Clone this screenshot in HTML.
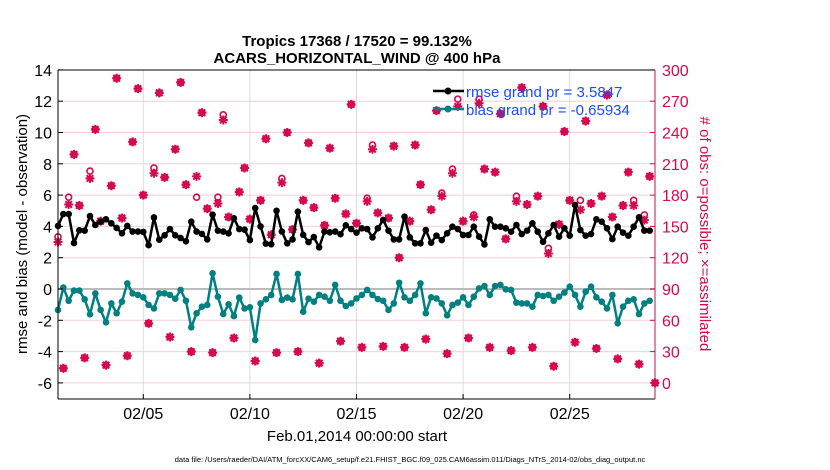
<!DOCTYPE html>
<html><head><meta charset="utf-8">
<style>
body{margin:0;background:#fff;}
svg{display:block;font-family:"Liberation Sans",Arial,sans-serif;}
</style></head>
<body>
<svg id="chart" width="830" height="470" viewBox="0 0 830 470" xmlns="http://www.w3.org/2000/svg">
<g id="grid"></g>
<g id="marks"></g>
<g id="axes"></g>
<text x="357" y="46" text-anchor="middle" font-size="15" font-weight="bold">Tropics 17368 / 17520 = 99.132%</text>
<text x="357" y="63" text-anchor="middle" font-size="15" font-weight="bold">ACARS_HORIZONTAL_WIND @ 400 hPa</text>
<text transform="translate(27,234) rotate(-90)" text-anchor="middle" font-size="15">rmse and bias (model - observation)</text>
<text transform="translate(700,234) rotate(90)" text-anchor="middle" font-size="15" fill="#d6084f"># of obs: o=possible; ×=assimilated</text>
<text x="357" y="441" text-anchor="middle" font-size="15">Feb.01,2014 00:00:00 start</text>
<text x="410" y="462" text-anchor="middle" font-size="7.5">data file: /Users/raeder/DAI/ATM_forcXX/CAM6_setup/f.e21.FHIST_BGC.f09_025.CAM6assim.011/Diags_NTrS_2014-02/obs_diag_output.nc</text>
<g>
<line x1="433" y1="91" x2="464" y2="91" stroke="#000" stroke-width="2.5"/>
<circle cx="448" cy="91" r="3.5" fill="#000"/>
<text x="466" y="97" font-size="15" fill="#1a4cff">rmse grand pr = 3.5847</text>
<line x1="433" y1="109" x2="464" y2="109" stroke="#008080" stroke-width="2.5"/>
<circle cx="448" cy="109" r="3.5" fill="#008080"/>
<text x="466" y="115" font-size="15" fill="#1a4cff">bias grand pr = -0.65934</text>
</g>
</svg>
<script>
const rmse=[4.03,4.79,4.79,2.94,3.75,3.73,4.66,4.09,4.3,4.45,4.2,3.9,3.56,4.03,3.67,3.67,3.65,2.8,4.57,3.15,3.43,3.83,3.43,3.26,3.05,4.3,3.67,3.52,3.17,4.75,3.73,3.67,3.56,4.52,3.83,3.79,3.13,5.17,4.0,2.9,2.86,5.0,3.67,2.92,3.17,4.94,3.46,3.0,3.32,2.66,3.67,3.62,3.67,3.5,4.07,3.83,3.6,
3.88,3.83,3.30,3.88,4.41,3.73,3.17,3.17,4.62,3.30,2.92,2.92,3.77,2.96,3.41,3.13,3.56,3.98,3.83,3.45,3.45,3.98,3.34,2.85,4.45,3.98,3.98,3.88,3.66,4.09,3.51,3.73,4.20,3.66,3.02,3.56,4.09,3.34,3.88,3.41,5.37,3.77,3.41,3.51,4.45,4.30,3.88,3.19,3.98,3.60,3.41,3.98,4.58,3.73,3.73];
const bias=[-1.34,0.09,-0.75,-0.1,-0.1,-0.66,-1.62,-0.28,-1.34,-2.13,-0.92,-1.55,-0.81,0.36,-0.28,-0.38,-0.53,-1.02,-1.24,-0.28,-0.28,-0.38,-0.62,-0.06,-0.75,-2.45,-1.55,-1.13,-1.02,1.0,-0.49,-1.6,-0.98,-1.73,-0.55,-1.24,-1.17,-3.26,-0.92,-0.66,-0.38,0.96,-0.7,-0.55,-0.66,0.96,-1.45,-0.62,-0.81,-0.38,-0.49,-0.75,0.26,-0.75,-1.09,-0.92,-0.6,
-0.38,-0.06,-0.38,-0.64,-0.75,-1.34,-0.92,0.40,-0.53,-0.75,-0.38,0.36,-1.55,-0.53,-0.60,-0.92,-1.68,-1.02,-0.87,-0.53,-1.02,-0.49,0.04,0.19,-0.38,0.19,0.26,-0.02,-0.06,-0.87,-0.92,-0.92,-1.13,-0.38,-0.45,-0.38,-0.75,-0.49,-0.23,0.15,-0.38,-1.13,-0.17,0.15,-0.53,-0.81,-1.24,-0.38,-2.19,-1.13,-0.75,-0.66,-1.60,-0.92,-0.75];
const assimilated=[135,14,171,219,170,24,196,243,155,17,189,292,158,26,231,282,180,57,201,278,197,44,224,288,190,30,198,259,167,29,172,252,159,43,183,206,157,21,175,234,142,29,192,240,147,30,175,230,168,19,151,225,177,40,162,267,153,
34,174,224,163,35,158,227,120,34,155,228,190,42,166,261,179,28,201,265,155,43,159,268,205,34,202,258,138,31,174,283,171,34,179,265,124,16,152,241,175,39,166,251,172,33,179,276,159,23,170,202,170,18,156,198,0];
const possible=[140,14,178,219,170,24,203,243,155,17,189,292,158,26,231,282,180,57,206,278,197,44,224,288,190,30,178,259,167,29,178,257,159,43,183,206,157,21,175,234,142,29,196,240,147,30,175,230,168,19,151,225,177,40,162,267,153,
34,177,228,163,35,158,227,120,34,155,228,190,42,166,261,182,28,205,272,155,43,161,272,205,34,202,258,138,31,179,283,171,34,179,265,129,16,152,241,175,39,175,251,172,33,179,276,159,23,170,202,175,18,161,198,0];
const leftTicks=[14,12,10,8,6,4,2,0,-2,-4,-6];
const rightTicks=[300,270,240,210,180,150,120,90,60,30,0];
const dateTicks=[4,9,14,19,24];
const dateLabels=["02/05","02/10","02/15","02/20","02/25"];

const L=58,R=655,T=70,B=399;
const NS="http://www.w3.org/2000/svg";
const xDay=d=>L+d*(R-L)/28;
const xIdx=i=>xDay(i*0.25);
const yL=v=>289-v*15.65;
const yR=o=>yL(o/15-6);
function mk(tag,attrs,parent){const e=document.createElementNS(NS,tag);for(const k in attrs)e.setAttribute(k,attrs[k]);parent.appendChild(e);return e;}
const grid=document.getElementById('grid'),marks=document.getElementById('marks'),axes=document.getElementById('axes');

leftTicks.forEach(v=>{
  const y=yL(v);
  if(v!==14){const g=mk('line',{x1:L,x2:R,y1:y,y2:y,stroke:'#f2cfdc','stroke-width':1},grid);
  
  }
  mk('line',{x1:L,x2:L+5,y1:y,y2:y,stroke:'#000'},axes);
  const t=mk('text',{x:52,y:y+6,'text-anchor':'end','font-size':16},axes);t.textContent=v;
  
  
});
rightTicks.forEach(o=>{
  const y=yR(o);
  mk('line',{x1:R-5,x2:R,y1:y,y2:y,stroke:'#d6084f'},axes);
  const t=mk('text',{x:662,y:y+6,'font-size':16,fill:'#d6084f'},axes);t.textContent=o;
  
  
});
dateTicks.forEach((d,k)=>{
  const x=xDay(d);
  const g=mk('line',{x1:x,x2:x,y1:T,y2:B,stroke:'#dcdcdc'},grid);
  
  
  mk('line',{x1:x,x2:x,y1:B-5,y2:B,stroke:'#000'},axes);
  const t=mk('text',{x:x,y:419,'text-anchor':'middle','font-size':16},axes);t.textContent=dateLabels[k];
  
  
});
const z=mk('line',{x1:L,x2:R,y1:yL(0),y2:yL(0),stroke:'#bbb','stroke-width':2},grid);



assimilated.forEach((o,i)=>{
  const x=xIdx(i);
  const c=mk('circle',{cx:x,cy:yR(possible[i]),r:3,fill:'none',stroke:'#d6084f','stroke-width':1.6},marks);
  
  
  const y=yR(o);
  const s=mk('path',{d:`M${x-4.5},${y}H${x+4.5}M${x},${y-4.5}V${y+4.5}M${x-3.3},${y-3.3}L${x+3.3},${y+3.3}M${x-3.3},${y+3.3}L${x+3.3},${y-3.3}`,stroke:'#d6084f','stroke-width':2},marks);
  
  
  const d=mk('circle',{cx:x,cy:y,r:2.8,fill:'#d6084f'},marks);
  
  
});
function series(vals,color,name){
  const p=mk('polyline',{points:vals.map((v,i)=>xIdx(i)+','+yL(v)).join(' '),fill:'none',stroke:color,'stroke-width':2.5,'stroke-linejoin':'round'},marks);
  
  
  vals.forEach((v,i)=>{
    const c=mk('circle',{cx:xIdx(i),cy:yL(v),r:3.3,fill:color},marks);
    
    
  });
}
series(bias,'#008080','bias');
series(rmse,'#000000','rmse');

mk('line',{x1:L,x2:R,y1:T,y2:T,stroke:'#000'},axes);
mk('line',{x1:L,x2:R,y1:B,y2:B,stroke:'#000'},axes);
mk('line',{x1:L,x2:L,y1:T,y2:B,stroke:'#000'},axes);
mk('line',{x1:R,x2:R,y1:T,y2:B,stroke:'#d6084f'},axes);
</script>
</body></html>
